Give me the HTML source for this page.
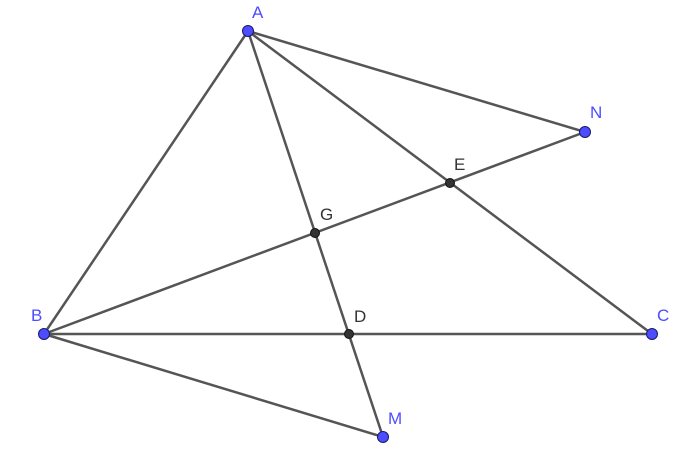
<!DOCTYPE html>
<html><head><meta charset="utf-8"><style>html,body{margin:0;padding:0;background:#fff;}</style></head>
<body>
<svg width="690" height="453" xmlns="http://www.w3.org/2000/svg" font-family="Liberation Sans, sans-serif" font-size="17">
<g stroke="#555" stroke-width="2.5" fill="none">
<line x1="248" y1="31" x2="44" y2="334"/>
<line x1="248" y1="31" x2="652" y2="334"/>
<line x1="248" y1="31" x2="585" y2="132"/>
<line x1="248" y1="31" x2="383" y2="437"/>
<line x1="44" y1="334" x2="652" y2="334"/>
<line x1="44" y1="334" x2="585" y2="132"/>
<line x1="44" y1="334" x2="383" y2="437"/>
</g>
<g fill="#4d4dff" stroke="#1a1a66" stroke-width="1">
<circle cx="248" cy="31" r="5.5"/><circle cx="585" cy="132" r="5.5"/>
<circle cx="44" cy="334" r="5.5"/><circle cx="652" cy="334" r="5.5"/>
<circle cx="383" cy="437" r="5.5"/>
</g>
<g fill="#333" stroke="#111" stroke-width="1">
<circle cx="450" cy="183" r="4.5"/><circle cx="315" cy="233" r="4.5"/><circle cx="349" cy="334" r="4.5"/>
</g>
<g fill="#4d4dff">
<text x="252" y="18">A</text><text x="590" y="118">N</text><text x="31" y="321">B</text>
<text x="657" y="321">C</text><text x="388" y="424">M</text>
</g>
<g fill="#333">
<text x="454" y="170">E</text><text x="320" y="220">G</text><text x="354" y="322">D</text>
</g>
</svg>
</body></html>
